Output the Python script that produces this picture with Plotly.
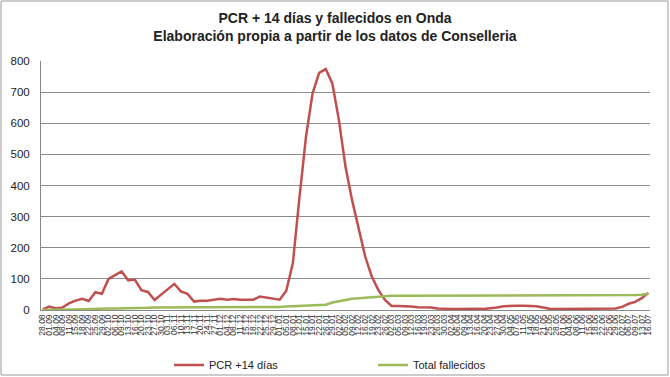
import plotly.graph_objects as go

fechas = ["28.08","01.09","04.09","08.09","11.09","15.09","18.09","22.09","25.09","29.09",
          "02.10","06.10","09.10","13.10","16.10","20.10","23.10","27.10","30.10",
          "03.11","06.11","10.11","13.11","17.11","20.11","24.11","27.11",
          "01.12","04.12","08.12","11.12","15.12","18.12","22.12","25.12","29.12",
          "01.01","05.01","08.01","12.01","15.01","19.01","22.01","26.01","29.01",
          "02.02","05.02","09.02","12.02","16.02","19.02","23.02","26.02",
          "02.03","05.03","09.03","12.03","16.03","19.03","23.03","26.03","30.03",
          "02.04","06.04","09.04","13.04","16.04","20.04","23.04","27.04","30.04",
          "04.05","07.05","11.05","14.05","18.05","21.05","25.05","28.05",
          "01.06","04.06","08.06","11.06","15.06","18.06","22.06","25.06","29.06",
          "02.07","06.07","09.07","13.07","16.07"]

pcr14 = [2, 11, 5, 8, 21, 30, 36, 29, 57, 52,
         100, 112, 124, 95, 98, 64, 58, 32, 50, 66,
         84, 60, 52, 27, 30, 30, 32, 36, 33, 35,
         33, 33, 33, 43, 40, 37, 33, 62, 150, 360,
         557, 696, 762, 774, 728, 610, 460, 353, 257, 171,
         107, 64, 32, 13, 13, 13, 11, 9, 9, 8,
         5, 3, 3, 3, 4, 4, 4, 3, 5, 8,
         12, 14, 14, 14, 13, 12, 8, 4, 3, 3,
         3, 3, 3, 3, 4, 4, 4, 5, 10, 20,
         26, 38, 55]

fallecidos = [0, 1, 1, 2, 2, 2, 3, 3, 4, 4,
              5, 5, 5, 6, 6, 7, 7, 8, 8, 9,
              9, 9, 9, 9, 9, 9, 9, 9, 10, 10,
              10, 10, 10, 10, 10, 10, 10, 11, 12, 12,
              13, 13, 14, 17, 24, 28, 33, 36, 38, 40,
              42, 44, 45, 46, 46, 46, 46, 46, 46, 46,
              46, 46, 46, 46, 46, 46, 46, 46, 46, 46,
              46, 46, 47, 47, 47, 47, 47, 48, 48, 48,
              48, 48, 48, 48, 48, 48, 48, 48, 48, 48,
              48, 49, 52]

x = list(range(len(fechas)))

fig = go.Figure()
fig.add_trace(go.Scatter(x=x, y=pcr14, mode="lines", name="PCR +14 días",
                         line=dict(color="#C0504D", width=2.5), legend="legend"))
fig.add_trace(go.Scatter(x=x, y=fallecidos, mode="lines", name="Total fallecidos",
                         line=dict(color="#9BBB59", width=2.5), legend="legend2"))

W_PLOT = 609.0
H_PLOT = 249.0

fig.update_layout(
    width=670, height=377,
    margin=dict(l=41, r=20, t=61, b=67, autoexpand=False),
    paper_bgcolor="white", plot_bgcolor="white",
    font=dict(family="Liberation Sans, Arial, sans-serif", color="#222"),
    title=dict(text="<b>PCR + 14 días y fallecidos en Onda<br>Elaboración propia a partir de los datos de Conselleria</b>",
               x=0.5, xanchor="center", y=0.94, yanchor="top",
               font=dict(size=14, color="#222")),
    showlegend=True,
    legend=dict(x=(169 - 41) / W_PLOT, xanchor="left", y=(310 - 365) / H_PLOT, yanchor="middle",
                font=dict(size=11), bgcolor="rgba(0,0,0,0)"),
    legend2=dict(x=(373 - 41) / W_PLOT, xanchor="left", y=(310 - 365) / H_PLOT, yanchor="middle",
                 font=dict(size=11), bgcolor="rgba(0,0,0,0)"),
    xaxis=dict(tickmode="array", tickvals=x, ticktext=fechas, tickangle=-90,
               tickfont=dict(size=8.5, color="#333"), range=[-0.25, len(x) - 0.75],
               showgrid=False, showline=True, linecolor="#888", linewidth=1,
               zeroline=False, ticks="", automargin=False),
    yaxis=dict(range=[0, 800], tickvals=[0,100,200,300,400,500,600,700,800],
               tickfont=dict(size=11.5, color="#222"), showgrid=True, gridcolor="#8c8c8c",
               gridwidth=1, showline=True, linecolor="#888", zeroline=False, ticks="",
               automargin=False, ticklabelstandoff=8),
    shapes=[dict(type="rect", xref="paper", yref="paper",
                 x0=(1 - 41) / W_PLOT, x1=(668 - 41) / W_PLOT,
                 y0=(310 - 375) / H_PLOT, y1=(310 - 1) / H_PLOT,
                 line=dict(color="#999", width=1))],
)

fig.write_html("out.html", config={"displayModeBar": False},
               post_script="document.body.style.margin='0';")
